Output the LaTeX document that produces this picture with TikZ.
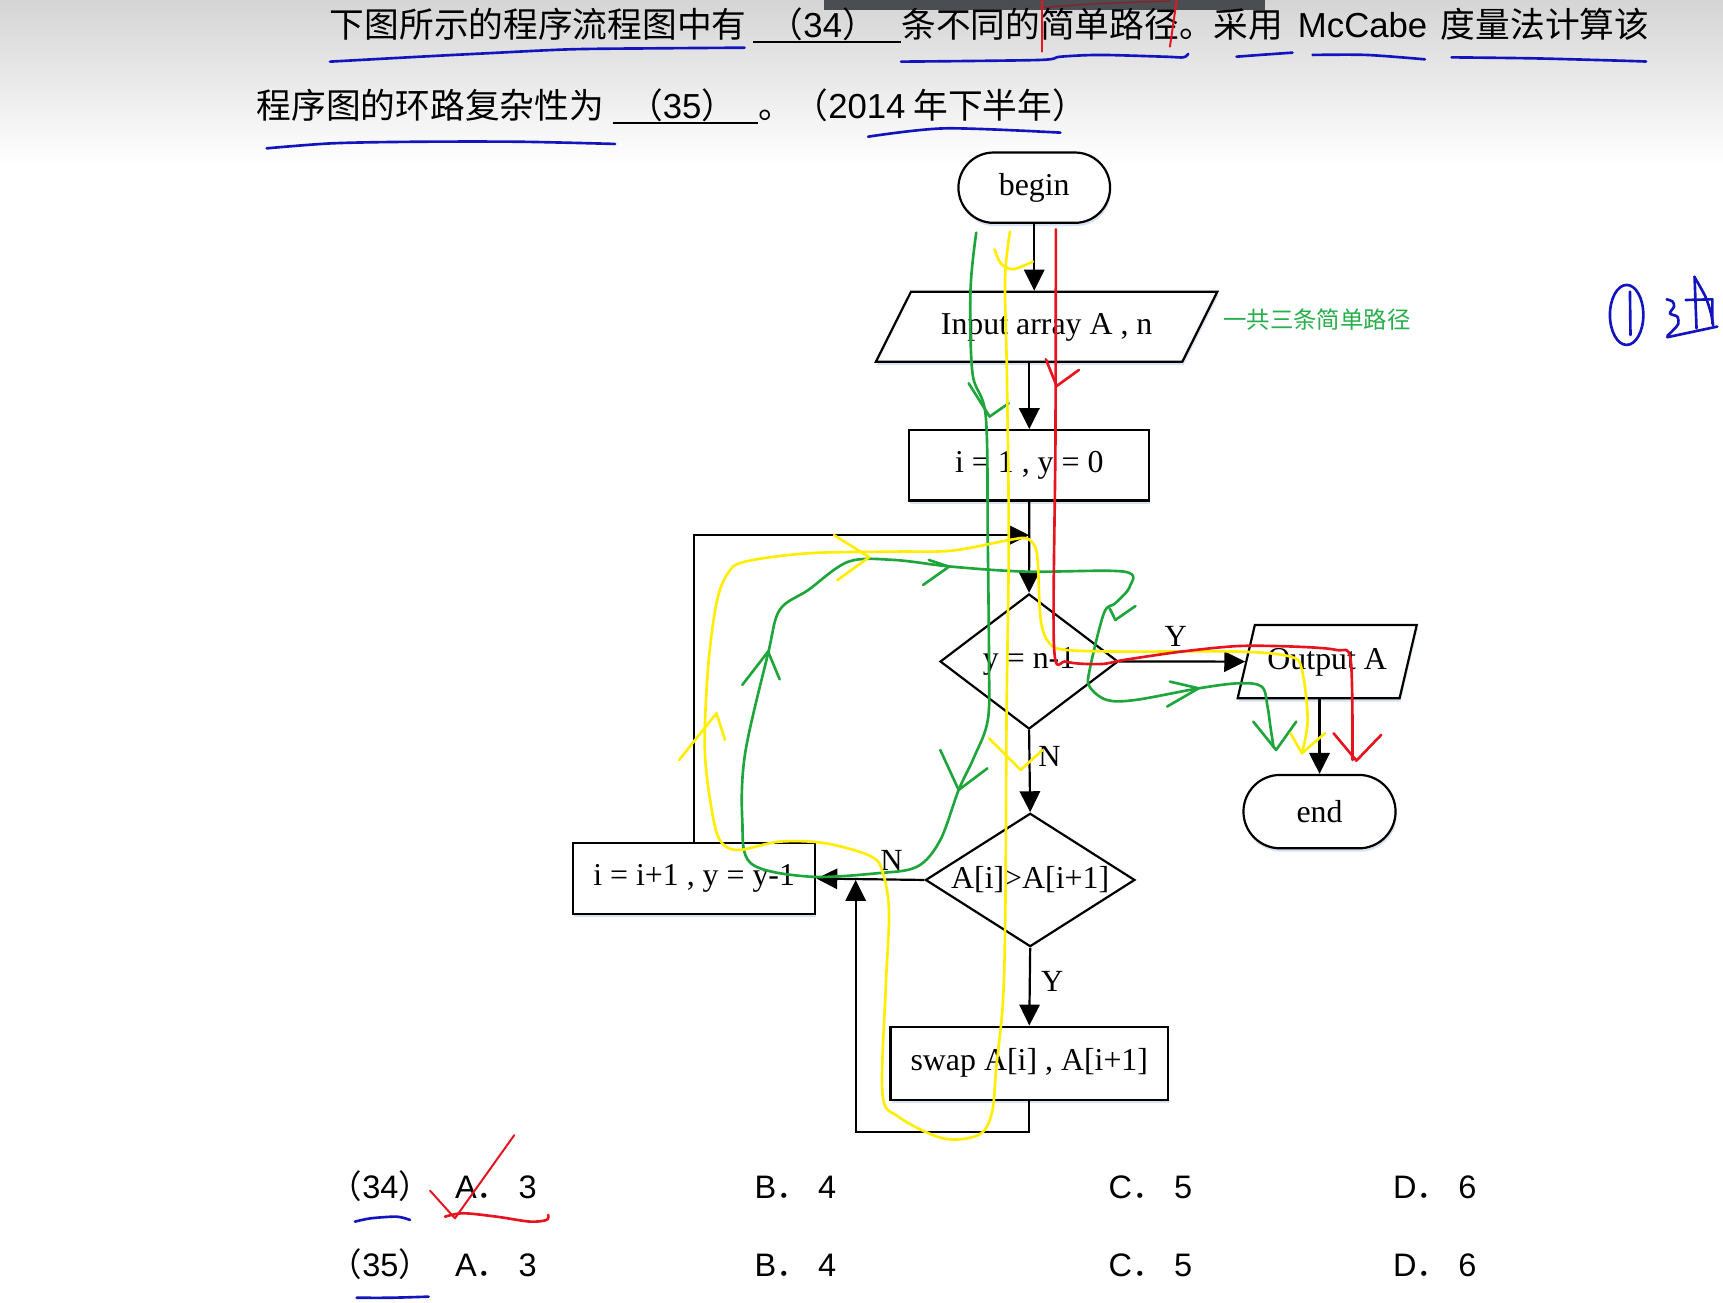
\documentclass[tikz,border=0pt]{standalone}
\usepackage{fontspec}
\setmainfont{Liberation Serif}
\newfontfamily\cjk{Noto Sans CJK SC}
\newfontfamily\arial{Liberation Sans}
\usetikzlibrary{shapes.geometric,shapes.misc,arrows.meta,shadows}
\definecolor{hblue}{RGB}{20,20,190}
\definecolor{hred}{RGB}{230,20,30}
\definecolor{dred}{RGB}{140,30,40}
\definecolor{hgreen}{RGB}{30,165,60}
\definecolor{hyellow}{RGB}{255,238,0}
\definecolor{tgreen}{RGB}{40,175,75}
\definecolor{barc}{RGB}{74,77,82}
\definecolor{shc}{RGB}{200,215,238}
\newcommand\lat[1]{{\arial #1}}
\begin{document}
\begin{tikzpicture}[x=1pt,y=-1pt,
  fc/.style={draw, line width=2pt, font=\fontsize{29}{34}\selectfont, inner sep=0pt, fill=white},
  shd/.style={drop shadow={shadow xshift=1pt, shadow yshift=-3pt, fill=shc, opacity=0.7}},
  term/.style={fc, shd, rounded rectangle, minimum width=138pt, minimum height=64pt},
  proc/.style={fc, shd, rectangle, minimum height=64pt},
  dec/.style={fc, diamond, aspect=1.6},
  io/.style={fc, shd, trapezium, trapezium stretches body, text height=20pt, text depth=6.3pt, inner xsep=2pt},
  arr/.style={line width=2pt, -{Triangle[length=19pt,width=18.5pt]}},
  yn/.style={font=\fontsize{28}{32}\selectfont, inner sep=0pt},
  qt/.style={font=\cjk\fontsize{31.6}{36}\selectfont, inner sep=0pt, anchor=base west},
  ans/.style={font=\cjk\fontsize{29.6}{34}\selectfont, inner sep=0pt, anchor=base west},
  hand/.style={line width=2.4pt, line cap=round, line join=round},
]
\useasboundingbox (0,0) rectangle (1568,1185);
\fill[white] (0,0) rectangle (1568,1185);
\shade[top color=gray!33, bottom color=white] (0,0) rectangle (1568,150);
\fill[barc] (750,0) rectangle (1151,9);

% ---- question text
\node[qt] (t1a) at (300,34.5) {下图所示的程序流程图中有};
\node[qt] (t1b) at (699.4,34.5) {（\lat{34}）};
\node[qt] (t1c) at (820,34.5) {条不同的简单路径。采用};
\node[qt] (t1d) at (1181,34.5) {\lat{McCabe}};
\node[qt] (t1e) at (1311,34.5) {度量法计算该};
\node[qt] (t2a) at (233.5,107.5) {程序图的环路复杂性为};
\node[qt] (t2b) at (571.4,107.5) {（\lat{35}）};
\node[qt] (t2c) at (690,107.5) {。};
\node[qt] (t2d) at (722,107.5) {（\lat{2014} 年下半年）};
\draw[line width=2pt] (685.5,38) -- (820,38);
\draw[line width=2pt] (557.5,111.6) -- (690,111.6);

% ---- flowchart
\node[term] (begin) at (941.2,170.8) {begin};
\node[io, trapezium left angle=63.4, trapezium right angle=116.6, inner ysep=18.7pt, minimum width=310.7pt] (in) at (952.5,297.3) {Input array A , n};
\node[proc, minimum width=218.4pt] (box1) at (936.7,423.5) {i = 1 , y = 0};
\node[dec, minimum width=162pt, minimum height=123pt] (d1) at (936.5,602) {y = n-1};
\node[io, trapezium left angle=76.8, trapezium right angle=103.2, inner ysep=20.25pt, minimum width=163pt] (out) at (1207.8,602.1) {Output A};
\node[term, minimum width=138.4pt, minimum height=66.8pt] (end) at (1200.8,738.6) {end};
\node[dec, minimum width=190.6pt, minimum height=121.4pt] (d2) at (937.5,800.8) {A[i]>A[i+1]};
\node[proc, minimum width=220.5pt, minimum height=64.3pt] (inc) at (631.7,799.5) {i = i+1 , y = y-1};
\node[proc, minimum width=252.7pt, minimum height=66.7pt] (swap) at (936.7,967.6) {swap A[i] , A[i+1]};

\coordinate (m) at (936.5,487);
\coordinate (b1) at (778.7,1030.4);

\draw[arr] (begin.south) -- (begin.south |- in.north);
\draw[arr] (box1.north |- in.south) -- (box1.north);
\draw[arr] (box1.south) -- (d1.north);
\draw[arr] (inc.north) -- (inc.north |- m) -- (m);
\draw[arr] (d1.east) -- (out.west);
\draw[arr] (end.north |- out.south) -- (end.north);
\draw[arr] (d1.south) -- (d2.north);
\draw[arr] (d2.west) -- (inc.east);
\draw[arr] (d2.south) -- (swap.north);
\draw[arr] (swap.south) |- (b1) -- (b1 |- d2);

\node[yn] (ly1) at (1070,579.4) {Y};
\node[yn] (ln1) at (955,688.5) {N};
\node[yn] (ln2) at (811.3,782.6) {N};
\node[yn] (ly2) at (957.5,893.3) {Y};

\node[font=\cjk\fontsize{21.3}{24}\selectfont, text=tgreen, inner sep=0pt, anchor=base west] (note) at (1113,299.3) {一共三条简单路径};

% ---- answers
\node[ans] (q34) at (300,1090.5) {（\lat{34}）};
\node[ans] (a34) at (414,1090.5) {\lat{A}．\hspace{8.5pt}\lat{3}};
\node[ans] (b34) at (686.5,1090.5) {\lat{B}．\hspace{8.5pt}\lat{4}};
\node[ans] (c34) at (1008.7,1090.5) {\lat{C}．\hspace{8.5pt}\lat{5}};
\node[ans] (d34) at (1267.5,1090.5) {\lat{D}．\hspace{8.5pt}\lat{6}};
\node[ans] (q35) at (300,1161.7) {（\lat{35}）};
\node[ans] (a35) at (414,1161.7) {\lat{A}．\hspace{8.5pt}\lat{3}};
\node[ans] (b35) at (686.5,1161.7) {\lat{B}．\hspace{8.5pt}\lat{4}};
\node[ans] (c35) at (1008.7,1161.7) {\lat{C}．\hspace{8.5pt}\lat{5}};
\node[ans] (d35) at (1267.5,1161.7) {\lat{D}．\hspace{8.5pt}\lat{6}};

% ---- hand annotations: green
\draw[hand, hgreen] plot[smooth, tension=0.55] coordinates {(888.4,211.7) (883.2,263.9) (885,339.7) (897.1,379.1) (898.9,491.4) (900,600) (899,655) (886,690) (872.4,718.9) (855.7,764.4) (834.8,788.6) (798.3,794.7) (735.6,797.7) (683.3,785.6) (675.5,746.2) (678.1,685.5) (699,594.5) (709.5,555.1) (735.6,536.9) (772.2,511.1) (813.9,509.6) (866.2,515.7) (934.1,520.2) (1022.9,520.2) (1028.1,533.9) (1015,549) (1004.6,558.1) (991.6,609.7) (991.6,624.9) (1007.2,637) (1033.3,637) (1090.8,626.4) (1127.4,621.8) (1148.3,624.9) (1153.5,643) (1156.1,661.2) (1159,680)};
\draw[hand, hgreen] (881.5,348.8) -- (900.6,379.1) -- (918,367);
\draw[hand, hgreen] (855.7,682.5) -- (872.4,718.9) -- (898.6,699.2);
\draw[hand, hgreen] (675.5,623.3) -- (699,593) -- (709.5,618.2);
\draw[hand, hgreen] (840.1,532.3) -- (863.6,515.7) -- (845.3,509.6);
\draw[hand, hgreen] (1009.8,553.6) -- (1015,564.2) -- (1033.3,551.5);
\draw[hand, hgreen] (1064.7,620.3) -- (1090.8,626.4) -- (1062.1,643);
\draw[hand, hgreen] (1140.5,656.7) -- (1161.3,682.5) -- (1179.6,656.7);

% ---- yellow
\draw[hand, hyellow] plot[smooth, tension=0.55] coordinates {(919.1,210.8) (914.6,254.8) (916.3,339.7) (918,491.4) (916,650) (915,819) (912.8,910) (906.7,970.7) (902.6,1013.1) (890.5,1032.8) (858,1035.9) (817.3,1016.1) (803.1,995) (806,900) (809,830) (803.5,794.7) (793,779.5) (751.3,767.4) (709.5,765.9) (672.9,773.5) (657.2,767.4) (649.4,746.2) (641.5,685.5) (644.2,609.7) (652,549) (662.4,521.7) (678.1,511.1) (735.6,503.5) (813.9,502) (866.2,501.1) (918.4,491.4) (934.1,489.9) (941.9,497.5) (944.5,512.6) (947.1,564.2) (955,585.4) (970.6,591.5) (1022.9,593) (1127.4,593) (1174.4,597.6) (1184.8,609.7) (1190,655.2) (1184.8,685.5)};
\draw[hand, hyellow] plot[smooth] coordinates {(905,227) (911,240) (922,245) (940,238)};
\draw[hand, hyellow] (759,487) -- (791,507) -- (762,528);
\draw[hand, hyellow] (618,691.6) -- (652,649.1) -- (659.8,673.4);
\draw[hand, hyellow] (900.1,671.9) -- (928.9,700.7) -- (948.7,682.5);
\draw[hand, hyellow] (1174.4,667.3) -- (1184.8,685.5) -- (1205.7,667.3);

% ---- red
\draw[hand, hred] plot[smooth, tension=0.5] coordinates {(960.9,208.7) (960.5,400) (959.2,588.5) (970.6,602.1) (1002,604.3) (1022.8,600.6) (1075,593) (1127.4,587.9) (1179.6,588.5) (1216.2,591.5) (1229.2,600.6) (1230.8,691.6)};
\draw[hand, hred] (951.8,327) -- (961.6,351.3) -- (981.8,336.7);
\draw[hand, hred] (1213.6,667.3) -- (1234.4,692.2) -- (1256.9,668.8);
\draw[hand, hred, line width=1.8pt] (948,0) -- (948,47);
\draw[hand, hred, line width=1.8pt] (1070.8,0) -- (1064.7,42.5);
\draw[dred, line width=1.2pt] (950,7) .. controls (990,3) and (1030,2) .. (1065,1);
\draw[hand, hred, line width=1.8pt] (391.3,1083.5) -- (414,1108.7) -- (468,1033);
\draw[hand, hred] plot[smooth] coordinates {(405,1107.2) (421.6,1104.1) (451.9,1107.2) (482.2,1111.7) (497.4,1110.2) (498.9,1105.6)};

% ---- blue
\draw[hand, hblue] plot[smooth] coordinates {(300.3,56.1) (382.2,51.6) (442.9,48.5) (518.7,44.9) (594.5,44) (677.6,43.4)};
\draw[hand, hblue] plot[smooth] coordinates {(820,56.1) (945,54.6) (965,51.6) (1001,50) (1060,51.6) (1076.8,52.2) (1081.3,49)};
\draw[hand, hblue] plot[smooth] coordinates {(1125.3,51.6) (1146.5,50) (1176.2,47.9)};
\draw[hand, hblue] plot[smooth] coordinates {(1194.5,50) (1243.6,50) (1296.7,54)};
\draw[hand, hblue] plot[smooth] coordinates {(1320.9,52.2) (1395.2,53.1) (1474,55.2) (1498,56)};
\draw[hand, hblue] plot[smooth] coordinates {(242.7,135) (303,130.4) (380,129) (473,129) (559.7,131)};
\draw[hand, hblue] plot[smooth] coordinates {(790,124.4) (860,116.8) (965,120.7)};
\draw[hand, hblue] plot[smooth] coordinates {(323,1111.7) (337.6,1108.7) (361,1107.2) (373.1,1110.2)};
\draw[hand, hblue] plot[smooth] coordinates {(324.6,1181) (355,1181) (390,1180)};
\draw[hand, hblue] (1480.3,286.6) ellipse [x radius=15.2, y radius=27.3];
\draw[hand, hblue] (1483.3,265.4) -- (1483.8,304.9);
\draw[hand, hblue] plot[smooth] coordinates {(1516.7,272.4) (1522.2,274.5) (1523.4,279.1) (1519.7,285.2) (1526.4,288.2) (1527.3,294.8) (1522.8,300.3) (1517.3,305.7)};
\draw[hand, hblue] (1517.3,306.9) -- (1562.8,297.2);
\draw[hand, hblue] (1542.1,251.8) -- (1543.9,298.8);
\draw[hand, hblue] (1534,273) -- (1558.3,272.4) -- (1558.3,294.3);
\draw[hand, hblue] plot[smooth] coordinates {(1542,252) (1552,270) (1557,285) (1559,296)};
\end{tikzpicture}
\end{document}
